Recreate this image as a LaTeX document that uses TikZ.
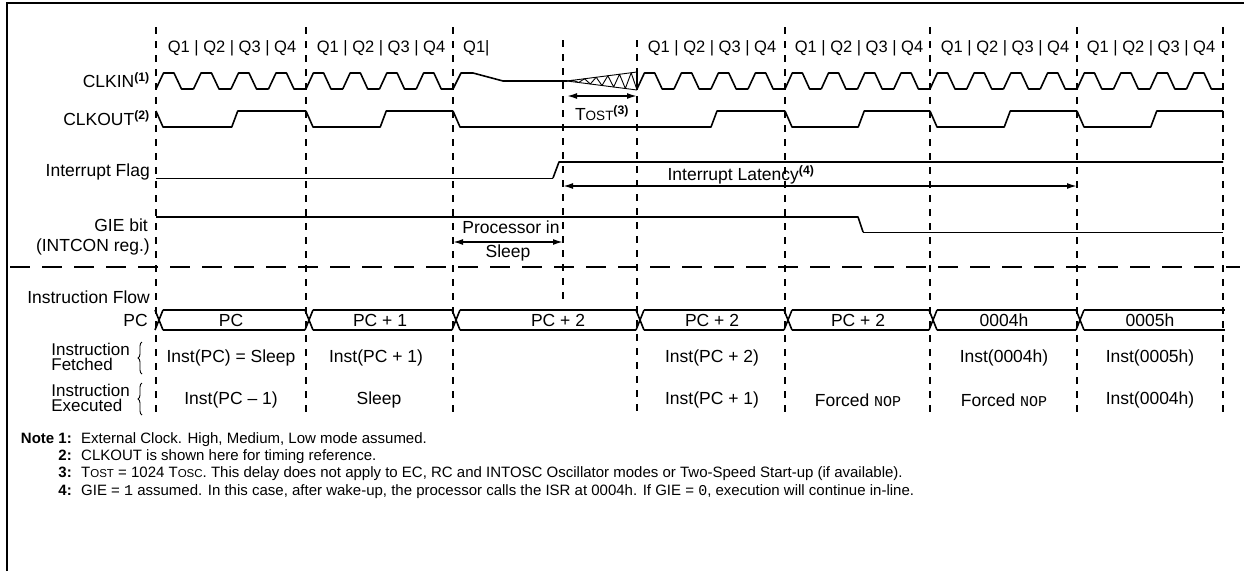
\documentclass[tikz,border=0pt]{standalone}
\usepackage{fontspec}
\setmainfont{Liberation Sans}
\newfontfamily\monofnt{Liberation Mono}
\usetikzlibrary{arrows.meta,decorations.pathreplacing}
\newcommand{\qrow}{Q1 | Q2 | Q3 | Q4}
\begin{document}
\begin{tikzpicture}[x=1pt,y=-1pt,
  sig/.style={line width=1.6pt, line join=round},
  thinsig/.style={line width=0.9pt, line join=round},
  vdash/.style={line width=2pt, dash pattern=on 7pt off 7pt},
  hdash/.style={line width=2pt, dash pattern=on 20pt off 12pt},
  lbl/.style={font=\fontsize{17.5}{19}\selectfont, inner sep=0pt},
  qlbl/.style={font=\fontsize{16.5}{18}\selectfont, inner sep=0pt},
  two/.style={font=\fontsize{17}{15}\selectfont, inner sep=0pt, align=left},
  note/.style={font=\fontsize{15}{17}\selectfont, inner sep=0pt},
  dim/.style={line width=1.6pt, {Latex[length=10pt,width=6pt]}-{Latex[length=10pt,width=6pt]}},
  brc/.style={line width=0.9pt, decorate, decoration={brace, amplitude=4pt}}]
\useasboundingbox (0,0) rectangle (1244,571);
% frame
\draw[line width=2pt] (7,571) -- (7,3) -- (1244,3);
% vertical dashed guides
\foreach \x in {156,306,453,785,930,1077,1223}{\draw[vdash] (\x,27) -- (\x,418);}
\draw[vdash] (637,40) -- (637,418);
\draw[vdash] (563,40) -- (563,300);
% horizontal separator
\draw[hdash] (10,267) -- (1240,267);
% Q labels
\foreach \c in {232,381,712,859,1005,1151}{\node[qlbl] at (\c,48) {\qrow};}
\node[qlbl, anchor=west] (qw) at (463,48) {Q1|};
% left labels
\node[lbl, anchor=east] (lclkin) at (150,80) {CLKIN\textsuperscript{\textbf{(1)}}};
\node[lbl, anchor=east] (lclkout) at (150,118) {CLKOUT\textsuperscript{\textbf{(2)}}};
\node[lbl, anchor=east] (lflag) at (150,172) {Interrupt Flag};
\node[lbl, anchor=east] (lgie) at (148,225) {GIE bit};
\node[lbl, anchor=east] (lintcon) at (150,247) {(INTCON reg.)};
\node[lbl, anchor=east] (lflow) at (150,297) {Instruction Flow};
\node[lbl, anchor=east] (lpc) at (148,320) {PC};
\node[two, anchor=east] (lfetch) at (130,357) {Instruction\\Fetched};
\node[two, anchor=east] (lexec) at (130,398) {Instruction\\Executed};
\draw[brc] (142,374) -- (142,342);
\draw[brc] (142,415) -- (142,383);
% CLKIN
\foreach \sa/\sb in {156/306,306/453,637/785,785/930,930/1077,1077/1223}{
  \pgfmathsetmacro{\q}{(\sb-\sa)/4}
  \foreach \k in {0,1,2,3}{
    \pgfmathsetmacro{\ta}{\sa+\k*\q}
    \draw[sig] (\ta,89) -- ({\ta+0.2*\q},73) -- ({\ta+0.48*\q},73) -- ({\ta+0.68*\q},89) -- ({\ta+\q},89);
  }
}
\draw[sig] (453,89) -- (461,73) -- (473,73) -- (503,81) -- (567,81);
\draw[thinsig] (567,81) -- (637,72);
\draw[thinsig] (567,81) -- (637,90);
\draw[thinsig] (567,81) \foreach \i in {1,...,12}{ -- ({567+70*\i/12},{81+9*\i/12*(1-2*mod(\i,2))}) };
\draw[sig] (637,72) -- (637,90);
% Tost
\coordinate (ta) at (567,96);
\coordinate (tb) at (637,96);
\draw[dim] (ta) -- (tb);
\node[lbl] (tost) at (602,113) {T{\fontsize{13.5}{13.5}\selectfont OST}\textsuperscript{\textbf{(3)}}};
% CLKOUT
\foreach \sa/\sb in {156/306,306/453,785/930,930/1077,1077/1223}{
  \pgfmathsetmacro{\w}{\sb-\sa}
  \draw[sig] (\sa,111) -- ({\sa+7},127) -- ({\sa+0.505*\w},127) -- ({\sa+0.505*\w+6},111) -- (\sb,111);
}
\draw[sig] (453,111) -- (460,127) -- (711,127) -- (717,111) -- (785,111);
% Interrupt flag
\draw[thinsig] (156,178) -- (553,178);
\draw[sig] (553,178) -- (559,162) -- (1223,162);
\coordinate (la) at (563,186);
\coordinate (lb) at (1077,186);
\draw[dim] (la) -- (lb);
\node[lbl] (lat) at (741,175) {Interrupt Latency\textsuperscript{\textbf{(4)}}};
% GIE
\draw[sig] (156,217) -- (858,217) -- (863,232);
\draw[thinsig] (863,232) -- (1223,232);
\coordinate (sa) at (453,242);
\coordinate (sb) at (563,242);
\draw[dim] (sa) -- (sb);
\node[lbl] (sl1) at (511,227) {Processor in};
\node[lbl] (sl2) at (508,253) {Sleep};
% PC bus
\foreach \b in {156,306,453,637,785,930,1077}{
  \draw[sig] ({\b-1},310) -- ({\b+7},330);
  \draw[sig] ({\b-1},330) -- ({\b+7},310);
}
\foreach \sa/\sb in {156/306,306/453,453/637,637/785,785/930,930/1077}{
  \draw[sig] ({\sa+7},310) -- ({\sb-1},310);
  \draw[sig] ({\sa+7},330) -- ({\sb-1},330);
}
\draw[sig] (1084,310) -- (1225,310);
\draw[sig] (1084,330) -- (1225,330);
\node[lbl] (pc1) at (231,320) {PC};
\node[lbl] (pc2) at (380,320) {PC + 1};
\node[lbl] (pc3) at (558,320) {PC + 2};
\node[lbl] (pc4) at (712,320) {PC + 2};
\node[lbl] (pc5) at (858,320) {PC + 2};
\node[lbl] (pc6) at (1004,320) {0004h};
\node[lbl] (pc7) at (1150,320) {0005h};
% fetched
\node[lbl] (f1) at (231,358) {Inst(PC) = Sleep};
\node[lbl] (f2) at (376,358) {Inst(PC + 1)};
\node[lbl] (f4) at (712,358) {Inst(PC + 2)};
\node[lbl] (f6) at (1004,358) {Inst(0004h)};
\node[lbl] (f7) at (1150,358) {Inst(0005h)};
% executed
\node[lbl] (e1) at (231,400) {Inst(PC -- 1)};
\node[lbl] (e2) at (379,400) {Sleep};
\node[lbl] (e4) at (712,400) {Inst(PC + 1)};
\node[lbl] (e5) at (858,400) {Forced {\monofnt\fontsize{15}{15}\selectfont NOP}};
\node[lbl] (e6) at (1004,400) {Forced {\monofnt\fontsize{15}{15}\selectfont NOP}};
\node[lbl] (e7) at (1150,400) {Inst(0004h)};
% notes
\node[note, anchor=base east] (k1) at (72,443) {\textbf{Note 1:}};
\node[note, anchor=base east] (k2) at (72,460) {\textbf{2:}};
\node[note, anchor=base east] (k3) at (72,477) {\textbf{3:}};
\node[note, anchor=base east] (k4) at (72,495) {\textbf{4:}};
\node[note, anchor=base west] (t1) at (81,443) {External Clock. High, Medium, Low mode assumed.};
\node[note, anchor=base west] (t2) at (81,460) {CLKOUT is shown here for timing reference.};
\node[note, anchor=base west] (t3) at (81,477) {T{\fontsize{11.5}{11.5}\selectfont OST} = 1024 T{\fontsize{11.5}{11.5}\selectfont OSC}. This delay does not apply to EC, RC and INTOSC Oscillator modes or Two-Speed Start-up (if available).};
\node[note, anchor=base west] (t4) at (81,495) {GIE = {\monofnt 1} assumed. In this case, after wake-up, the processor calls the ISR at 0004h. If GIE = {\monofnt 0}, execution will continue in-line.};
\end{tikzpicture}
\end{document}
